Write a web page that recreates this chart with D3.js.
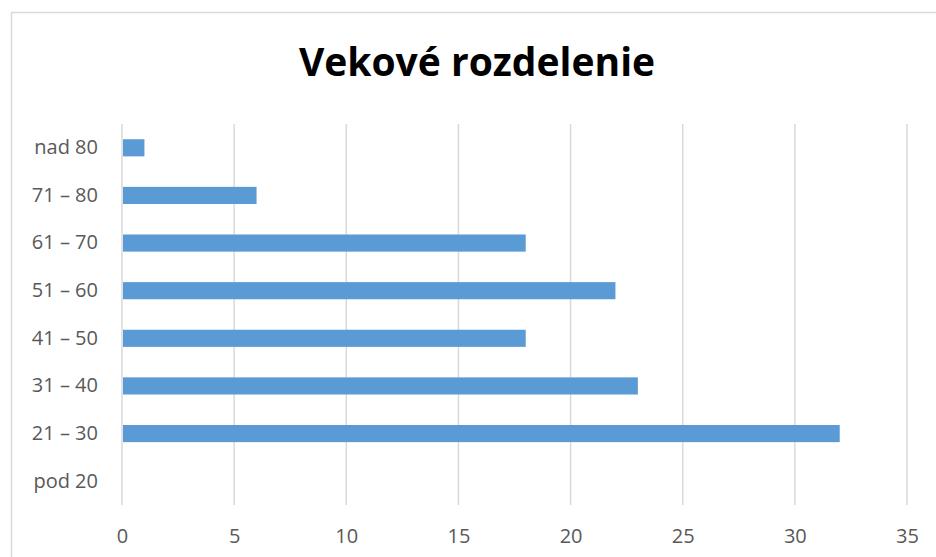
<!DOCTYPE html>
<html>
<head>
<meta charset="utf-8">
<script src="https://cdn.jsdelivr.net/npm/d3@7"></script>
<style>
  body { margin: 0; background: #fff; }
  svg { display: block; font-family: "Open Sans", "Noto Sans", sans-serif; }
</style>
</head>
<body>
<svg id="chart"></svg>
<script>
// Age groups, top to bottom as drawn
const categories = ["nad 80", "71 – 80", "61 – 70", "51 – 60", "41 – 50", "31 – 40", "21 – 30", "pod 20"];
const counts = [1, 6, 18, 22, 18, 23, 32, 0];
const xTicks = [0, 5, 10, 15, 20, 25, 30, 35];

const data = categories.map((c, i) => ({ key: c, value: counts[i] }));

const containerWidth = 936, containerHeight = 557;
const margin = { top: 124, right: 29, bottom: 52, left: 122 };
const width = containerWidth - margin.left - margin.right;
const height = containerHeight - margin.top - margin.bottom;

const svg = d3.select("#chart")
  .attr("width", containerWidth)
  .attr("height", containerHeight);

// chart frame (right and bottom edges fall outside the view)
svg.append("rect")
  .attr("x", 11.5).attr("y", 12.5)
  .attr("width", containerWidth)
  .attr("height", containerHeight)
  .attr("fill", "none")
  .attr("stroke", "#d9d9d9")
  .attr("stroke-width", 1.5);

svg.append("text")
  .attr("x", 477)
  .attr("y", 76)
  .attr("text-anchor", "middle")
  .style("font-size", "39px")
  .style("font-weight", "bold")
  .attr("fill", "#000")
  .text("Vekové rozdelenie");

const xScale = d3.scaleLinear()
  .domain([0, 35])
  .range([0, width]);

const yScale = d3.scaleBand()
  .domain(categories)
  .range([0, height])
  .paddingInner(0.64)
  .paddingOuter(0.32);

const chart = svg.append("g")
  .attr("transform", `translate(${margin.left},${margin.top})`);

// vertical gridlines
chart.selectAll(".grid")
  .data(xTicks)
  .join("line")
  .attr("class", "grid")
  .attr("x1", d => xScale(d)).attr("x2", d => xScale(d))
  .attr("y1", 0).attr("y2", height)
  .attr("stroke", "#d9d9d9")
  .attr("stroke-width", 1.5);

chart.selectAll(".bar")
  .data(data)
  .join("rect")
  .attr("class", "bar")
  .attr("x", xScale(0) + 1)
  .attr("y", d => yScale(d.key))
  .attr("width", d => Math.max(0, xScale(d.value) - xScale(0) - 1))
  .attr("height", yScale.bandwidth())
  .attr("fill", "#5b9bd5");

// axes
const xAxis = d3.axisBottom(xScale).tickValues(xTicks).tickSize(0).tickPadding(24);
const yAxis = d3.axisLeft(yScale).tickSize(0).tickPadding(24);

const xAxisGroup = chart.append("g")
  .attr("transform", `translate(0,${height})`)
  .call(xAxis);
const yAxisGroup = chart.append("g").call(yAxis);

[xAxisGroup, yAxisGroup].forEach(g => {
  g.select(".domain").remove();
  g.selectAll("text")
    .style("font-family", "\"Open Sans\", sans-serif")
    .style("font-size", "20px")
    .attr("fill", "#595959");
});
</script>
</body>
</html>
